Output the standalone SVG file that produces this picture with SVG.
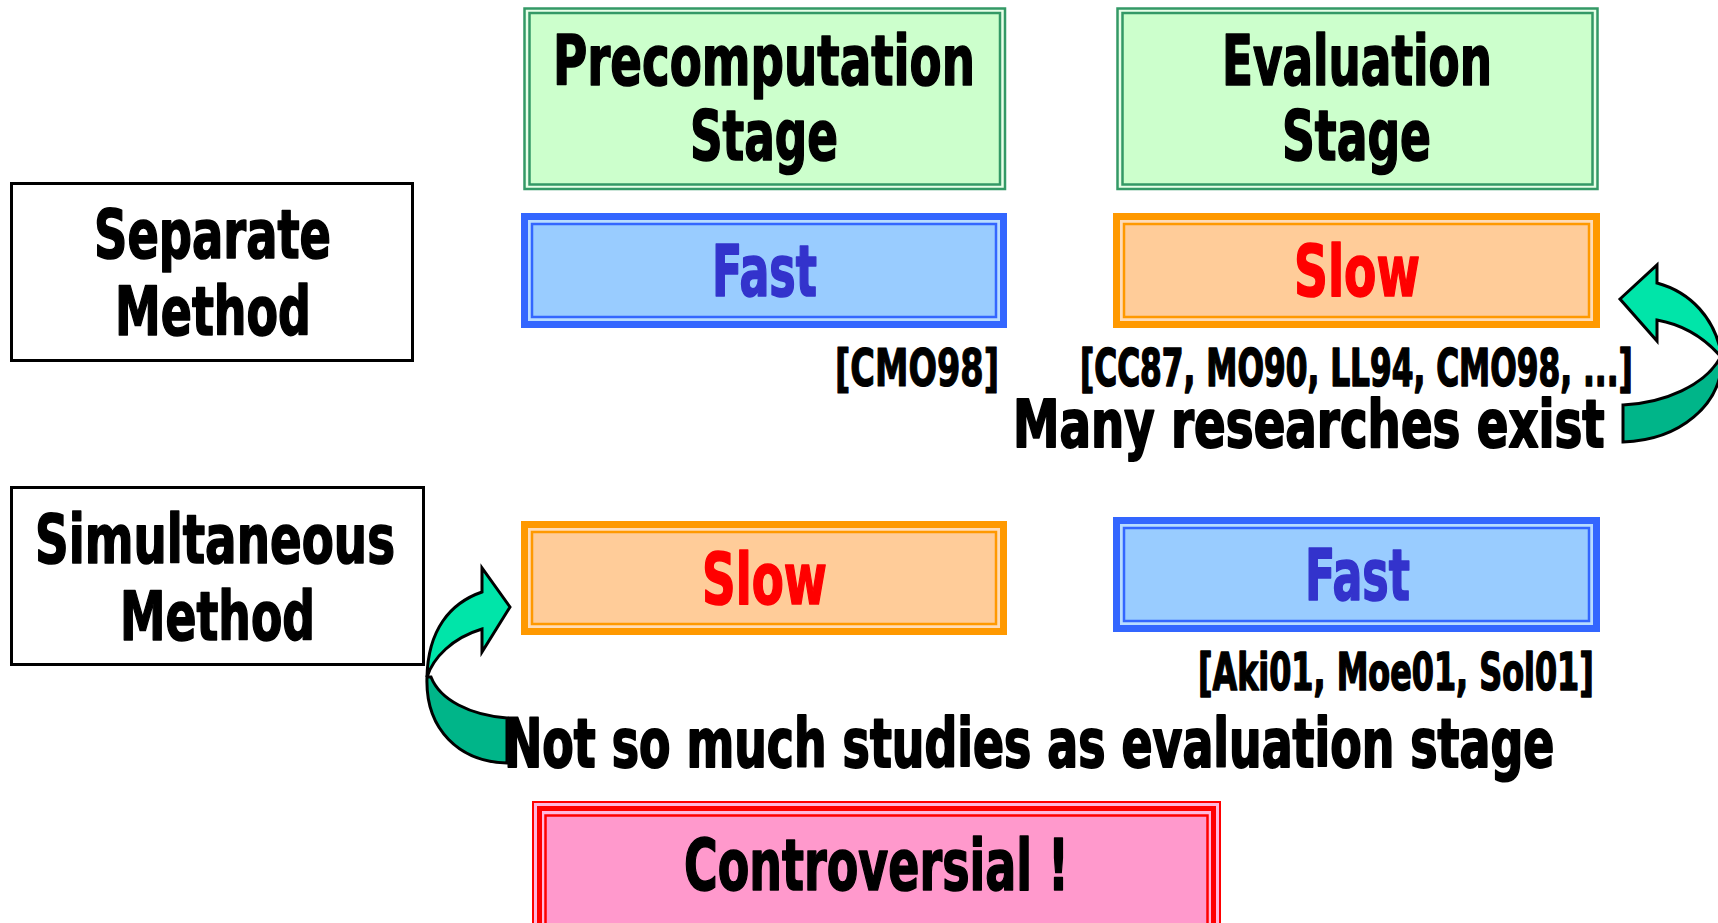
<svg xmlns="http://www.w3.org/2000/svg" width="1718" height="923" viewBox="0 0 1718 923">
<style>
text{font-family:"DejaVu Sans Condensed","DejaVu Sans","Liberation Sans",sans-serif;font-weight:bold;fill:#000;stroke:#000;stroke-width:1.6;stroke-linejoin:round}
.h{font-size:70px}
.m{font-size:68px}
.b{font-size:71px}
.c{font-size:52px;stroke-width:1.2}
.fast{fill:#3333cc;stroke:#3333cc}
.slow{fill:#ff0000;stroke:#ff0000}
.arw{stroke:#000;stroke-width:3;stroke-linejoin:miter}
.lt{fill:#00e5a9}
.dk{fill:#00b589}
</style>
<rect width="1718" height="923" fill="#fff"/>
<g id="precomputation-stage">
<rect x="524.5" y="8.5" width="480.5" height="180.5" fill="#e8ffe8" stroke="#339966" stroke-width="2.5"/>
<rect x="529.5" y="13" width="470.5" height="171.5" fill="#ccffcc" stroke="#339966" stroke-width="2.5"/>
<text class="h" x="553" y="85" textLength="422" lengthAdjust="spacingAndGlyphs">Precomputation</text>
<text class="h" x="690" y="160" textLength="148" lengthAdjust="spacingAndGlyphs">Stage</text>
</g>
<g id="evaluation-stage">
<rect x="1117.5" y="8.5" width="480" height="180.5" fill="#e8ffe8" stroke="#339966" stroke-width="2.5"/>
<rect x="1122.5" y="13" width="470" height="171.5" fill="#ccffcc" stroke="#339966" stroke-width="2.5"/>
<text class="h" x="1222" y="85" textLength="270" lengthAdjust="spacingAndGlyphs">Evaluation</text>
<text class="h" x="1282" y="160" textLength="149" lengthAdjust="spacingAndGlyphs">Stage</text>
</g>
<g id="separate-method">
<rect x="11.5" y="183.5" width="401" height="177" fill="#fff" stroke="#000" stroke-width="3"/>
<text class="m" x="94" y="258" textLength="237" lengthAdjust="spacingAndGlyphs">Separate</text>
<text class="m" x="115" y="335" textLength="196" lengthAdjust="spacingAndGlyphs">Method</text>
</g>
<g id="separate-precomp-fast">
<rect x="524.5" y="216.5" width="479" height="108" fill="#b8dcff" stroke="#3366ff" stroke-width="7"/>
<rect x="532" y="224" width="464" height="93" fill="#99ccff" stroke="#3366ff" stroke-width="2.5"/>
<text class="b fast" x="712" y="296" textLength="105" lengthAdjust="spacingAndGlyphs">Fast</text>
</g>
<g id="separate-eval-slow">
<rect x="1116.5" y="216.5" width="480" height="108" fill="#ffdcb8" stroke="#ff9900" stroke-width="7"/>
<rect x="1124" y="224" width="465" height="93" fill="#ffcc99" stroke="#ff9900" stroke-width="2.5"/>
<text class="b slow" x="1294" y="296" textLength="126" lengthAdjust="spacingAndGlyphs">Slow</text>
</g>
<g id="refs-separate">
<text class="c" x="835" y="386" textLength="164" lengthAdjust="spacingAndGlyphs">[CMO98]</text>
<text class="c" transform="translate(1080 386) scale(0.68 1)" x="0" y="0" textLength="813" lengthAdjust="spacingAndGlyphs" style="stroke-width:1.6">[CC87, MO90, LL94, CMO98, ...]</text>
</g>
<g id="simultaneous-method">
<rect x="11.5" y="487.5" width="412" height="177" fill="#fff" stroke="#000" stroke-width="3"/>
<text class="m" x="35" y="563" textLength="360" lengthAdjust="spacingAndGlyphs">Simultaneous</text>
<text class="m" x="120" y="640" textLength="195" lengthAdjust="spacingAndGlyphs">Method</text>
</g>
<g id="simultaneous-precomp-slow">
<rect x="524.5" y="524.5" width="479" height="107" fill="#ffdcb8" stroke="#ff9900" stroke-width="7"/>
<rect x="532" y="532" width="464" height="92" fill="#ffcc99" stroke="#ff9900" stroke-width="2.5"/>
<text class="b slow" x="702" y="604" textLength="125" lengthAdjust="spacingAndGlyphs">Slow</text>
</g>
<g id="simultaneous-eval-fast">
<rect x="1116.5" y="520.5" width="480" height="108" fill="#b8dcff" stroke="#3366ff" stroke-width="7"/>
<rect x="1124" y="528" width="465" height="93" fill="#99ccff" stroke="#3366ff" stroke-width="2.5"/>
<text class="b fast" x="1305" y="600" textLength="105" lengthAdjust="spacingAndGlyphs">Fast</text>
</g>
<g id="refs-simultaneous">
<text class="c" transform="translate(1198 690) scale(0.68 1)" x="0" y="0" textLength="582" lengthAdjust="spacingAndGlyphs" style="stroke-width:1.6">[Aki01, Moe01, Sol01]</text>
</g>
<g id="connectors">
<path class="arw dk" d="M1722 358 C1722 405 1680 440 1623 442 L1623 405 C1665 403 1705 385 1720 358 Z"/>
<path class="arw lt" d="M1620 299 L1657 265 L1657 283 C1690 292 1716 318 1722 358 C1705 338 1685 325 1657 320 L1657 341 Z"/>
<path class="arw dk" d="M427 677 C425 730 460 762 507 763 L507 718 C470 715 440 700 431 677 Z"/>
<path class="arw lt" d="M510 607 L482 568 L482 592 C450 603 428 630 427 677 C433 658 452 638 482 629 L482 652 Z"/>
</g>
<g id="note-many">
<text class="m" transform="translate(1013 447) scale(0.79 1)" x="0" y="0" style="font-size:66px;stroke-width:1.9" textLength="749" lengthAdjust="spacingAndGlyphs">Many researches exist</text>
</g>
<g id="note-not-so-much">
<text class="m" transform="translate(504 767) scale(0.76 1)" x="0" y="0" style="font-size:67px;stroke-width:1.9" textLength="1382" lengthAdjust="spacingAndGlyphs">Not so much studies as evaluation stage</text>
</g>
<g id="controversial">
<rect x="533" y="802" width="687" height="140" fill="#ffb8dc" stroke="#ff0000" stroke-width="2"/>
<rect x="539.5" y="808.5" width="674" height="127" fill="#ffb8dc" stroke="#ff0000" stroke-width="5"/>
<rect x="545.5" y="815.5" width="662" height="113" fill="#ff99cc" stroke="#ff0000" stroke-width="2.5"/>
<text class="b" x="684" y="890" textLength="385" lengthAdjust="spacingAndGlyphs">Controversial !</text>
</g>
</svg>
